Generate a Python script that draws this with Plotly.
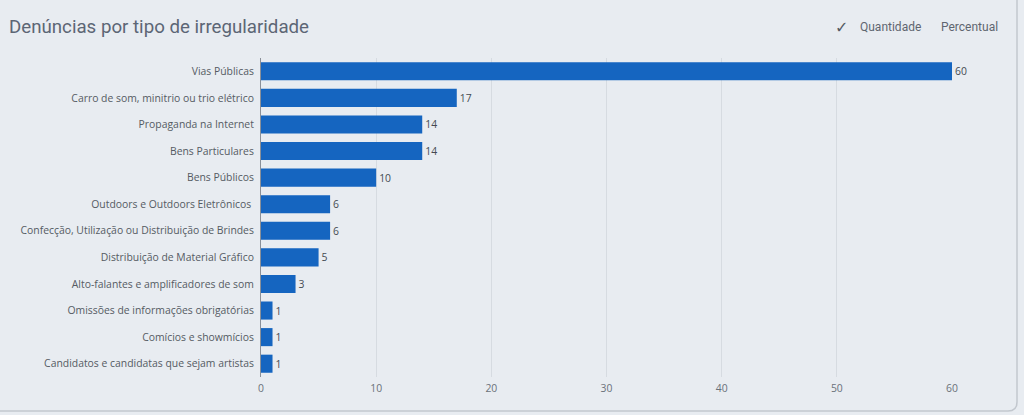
from plotly import graph_objects as go

categories = [
    "Vias Públicas",
    "Carro de som, minitrio ou trio elétrico",
    "Propaganda na Internet",
    "Bens Particulares",
    "Bens Públicos",
    "Outdoors e Outdoors Eletrônicos ",
    "Confecção, Utilização ou Distribuição de Brindes",
    "Distribuição de Material Gráfico",
    "Alto-falantes e amplificadores de som",
    "Omissões de informações obrigatórias",
    "Comícios e showmícios",
    "Candidatos e candidatas que sejam artistas",
]
quantities = [60, 17, 14, 14, 10, 6, 6, 5, 3, 1, 1, 1]
x_ticks = [0, 10, 20, 30, 40, 50, 60]

bg = "#e8ecf1"
label_font = dict(family="Open Sans, Noto Sans, sans-serif", size=10.4, color="#555b63")

# plot area in pixels
L, R, T, B = 261, 952, 58, 377
W, H = R - L, B - T


def px(x):
    return (x - L) / W


def py(y):
    return (B - y) / H


fig = go.Figure(go.Bar(
    x=quantities,
    y=categories,
    orientation="h",
    marker=dict(color="#1565c0", line=dict(width=0)),
    text=quantities,
    textposition="outside",
    textfont=dict(family="Open Sans, sans-serif", size=10.4, color="#444a52"),
    cliponaxis=False,
))

fig.update_layout(
    width=1024,
    height=415,
    margin=dict(l=L, r=1024 - R, t=T, b=415 - B, autoexpand=False),
    paper_bgcolor=bg,
    plot_bgcolor=bg,
    bargap=0.32,
    showlegend=False,
    xaxis=dict(
        range=[0, 60],
        tickvals=x_ticks,
        showgrid=True,
        gridcolor="#d6dbe1",
        zeroline=False,
        tickfont=dict(family="Open Sans, sans-serif", size=10.4, color="#6a717a"),
        ticks="",
        ticklabelstandoff=4,
        automargin=False,
    ),
    yaxis=dict(
        autorange="reversed",
        tickfont=label_font,
        showline=True,
        linecolor="#8a9099",
        linewidth=1,
        ticks="",
        ticklabelstandoff=4,
        automargin=False,
    ),
    annotations=[
        dict(text="Denúncias por tipo de irregularidade", xref="paper", yref="paper",
             x=px(7), y=py(27), xanchor="left", yanchor="middle",
             showarrow=False, font=dict(family="Roboto, sans-serif", size=18.7, color="#5c6675")),
        dict(text="✓", xref="paper", yref="paper", x=px(841), y=py(27),
             xanchor="center", yanchor="middle", showarrow=False,
             font=dict(family="DejaVu Sans, sans-serif", size=16, color="#555b63")),
        dict(text="Quantidade", xref="paper", yref="paper", x=px(858), y=py(27),
             xanchor="left", yanchor="middle", showarrow=False,
             font=dict(family="Roboto, sans-serif", size=12, color="#5f6670")),
        dict(text="Percentual", xref="paper", yref="paper", x=px(939), y=py(27),
             xanchor="left", yanchor="middle", showarrow=False,
             font=dict(family="Roboto, sans-serif", size=12, color="#5f6670")),
    ],
    shapes=[
        dict(type="path", xref="paper", yref="paper",
             path="M %f %f L %f %f Q %f %f %f %f L %f %f" % (
                 px(1017), py(0),
                 px(1017), py(402),
                 px(1017), py(411),
                 px(1008), py(411),
                 px(0), py(411)),
             line=dict(color="#c2c7ce", width=1.5)),
    ],
)

fig.write_html("out.html", config={"displayModeBar": False},
               post_script="document.body.style.margin='0';")
